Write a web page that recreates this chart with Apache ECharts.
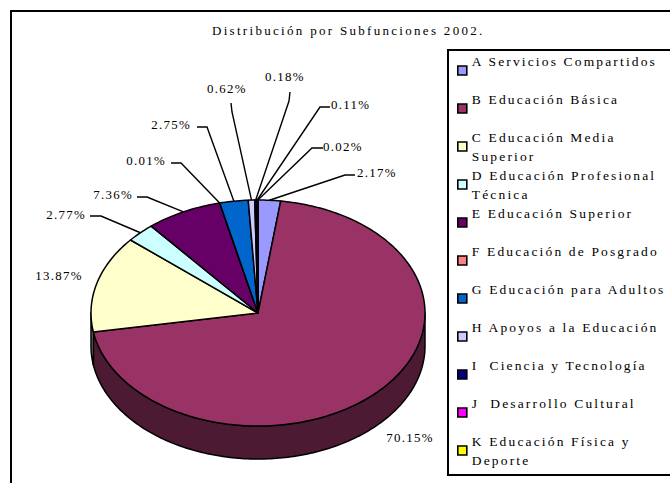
<!DOCTYPE html>
<html><head><meta charset="utf-8">
<script src="https://cdn.jsdelivr.net/npm/echarts@6/dist/echarts.min.js"></script>
<style>
html,body{margin:0;padding:0;background:#fff;overflow:hidden}
#main{width:670px;height:483px;overflow:hidden}
#main text{letter-spacing:2.3px}
#main text[style*="13.5px"]{letter-spacing:2.15px}
#main text[style*="12.9px"]{letter-spacing:1.3px}
</style></head>
<body><div id="main"></div>
<script>
// ---- data ----
const categories = [
  'A Servicios Compartidos',
  'B Educación Básica',
  'C Educación Media Superior',
  'D Educación Profesional Técnica',
  'E Educación Superior',
  'F Educación de Posgrado',
  'G Educación para Adultos',
  'H Apoyos a la Educación',
  'I  Ciencia y Tecnología',
  'J  Desarrollo Cultural',
  'K Educación Física y Deporte'
];
const values = [2.17, 70.15, 13.87, 2.77, 7.36, 0.01, 2.75, 0.62, 0.18, 0.11, 0.02];
const titleText = 'Distribución por Subfunciones 2002.';
// legend line breaks (word after which the name wraps)
const breakAfter = {
  'C Educación Media Superior': 'Media',
  'D Educación Profesional Técnica': 'Profesional',
  'K Educación Física y Deporte': 'y'
};

// ---- styles / layout ----
const colors = ['#9999FF','#993366','#FFFFCC','#CCFFFF','#660066','#FF8080','#0066CC','#CCCCFF','#000080','#FF00FF','#FFFF00'];
const PIE = {cx: 258, cy: 313, rx: 167, ry: 113, depth: 33};
// label placement: [textX, textY, align, lineStart, elbow]
const labelLayout = [
  [357, 173, 'left',  [355,175], [345,175]],
  [410, 438, 'center', null, null],
  [59, 276, 'center', null, null],
  [86, 215, 'right', [90,216], [101,216]],
  [133, 195, 'right', [137,197], [147,197]],
  [166, 161, 'right', [171,163], [181,163]],
  [191, 125, 'right', [197,127], [207,127]],
  [227, 89, 'center', [231,103], [232,112]],
  [285, 77, 'center', [290,92], [289,101]],
  [331, 105, 'left', [330,107], [320,107]],
  [323, 147, 'left', [323,148], [312,148]]
];

const total = values.reduce((s, v) => s + v, 0);
const cum = [];
values.reduce((s, v, i) => { cum[i] = s; return s + v; }, 0);

function shade(hex, f) {
  const n = parseInt(hex.slice(1), 16);
  const r = Math.round(((n >> 16) & 255) * f), g = Math.round(((n >> 8) & 255) * f), b = Math.round((n & 255) * f);
  return 'rgb(' + r + ',' + g + ',' + b + ')';
}

function makeRender(idx) {
  return function (params, api) {
    const v = api.value(0);
    const a0 = cum[idx] / total * 2 * Math.PI;
    const a1 = (cum[idx] + v) / total * 2 * Math.PI;
    const P = (t, dy) => [PIE.cx + PIE.rx * Math.sin(t), PIE.cy - PIE.ry * Math.cos(t) + dy];
    const arc = (s, e, dy) => {
      const pts = [];
      const n = Math.max(2, Math.ceil((e - s) / (Math.PI / 180)));
      for (let k = 0; k <= n; k++) pts.push(P(s + (e - s) * k / n, dy));
      return pts;
    };
    const children = [];
    const w0 = Math.max(a0, Math.PI / 2), w1 = Math.min(a1, 1.5 * Math.PI);
    if (w1 > w0) {
      const top = arc(w0, w1, 0), bot = arc(w0, w1, PIE.depth).reverse();
      children.push({type: 'polygon', shape: {points: top.concat(bot)},
        style: {fill: shade(colors[idx], 0.5), stroke: '#000', lineWidth: 1.5, lineJoin: 'round'}});
    }
    children.push({type: 'polygon', shape: {points: [[PIE.cx, PIE.cy]].concat(arc(a0, a1, 0))},
      style: {fill: colors[idx], stroke: '#000', lineWidth: 1.5, lineJoin: 'round'}});
    const L = labelLayout[idx];
    if (L[3]) {
      const m = P((a0 + a1) / 2, 0);
      children.push({type: 'polyline', shape: {points: [L[3], L[4], m]},
        style: {fill: null, stroke: '#000', lineWidth: 1.4}});
    }
    children.push({type: 'text', style: {
      text: v.toFixed(2) + '%', x: L[0], y: L[1], align: L[2], verticalAlign: 'middle',
      fontFamily: 'Liberation Serif', fontSize: 12.9, fill: '#000'}});
    return {type: 'group', children};
  };
}

const chart = echarts.init(document.getElementById('main'), null, {renderer: 'svg', width: 670, height: 483});
chart.setOption({
  animation: false,
  backgroundColor: '#fff',
  title: {
    text: titleText, left: 207, top: 19,
    textStyle: {fontFamily: 'Liberation Serif', fontSize: 13, fontWeight: 'normal', color: '#000'}
  },
  graphic: {
    elements: [
      {type: 'polyline', silent: true, z: 10,
        shape: {points: [[11, 483], [11, 11], [670, 11]]},
        style: {fill: null, stroke: '#000', lineWidth: 2}},
      {type: 'polyline', silent: true, z: 10,
        shape: {points: [[670, 475], [448, 475], [448, 50], [670, 50]]},
        style: {fill: null, stroke: '#000', lineWidth: 2}}
    ]
  },
  legend: {
    orient: 'vertical', left: 448, top: 50,
    padding: [4, 10, 0, 9],
    itemWidth: 9, itemHeight: 9, itemGap: 5,
    icon: 'rect',
    itemStyle: {borderColor: '#000', borderWidth: 1.6},
    data: categories,
    formatter: function (name) {
      const w = breakAfter[name];
      if (w) { const k = name.indexOf(' ' + w + ' ') + w.length + 1; return name.slice(0, k) + '\n' + name.slice(k + 1); }
      return name + '\n';
    },
    textStyle: {fontFamily: 'Liberation Serif', fontSize: 13.5, color: '#000', lineHeight: 19, height: 19},
    selectedMode: false
  },
  series: categories.map((name, i) => ({
    type: 'custom', name: name, coordinateSystem: 'none', silent: true,
    itemStyle: {color: colors[i]},
    data: [values[i]],
    renderItem: makeRender(i)
  }))
});
</script>
</body></html>
